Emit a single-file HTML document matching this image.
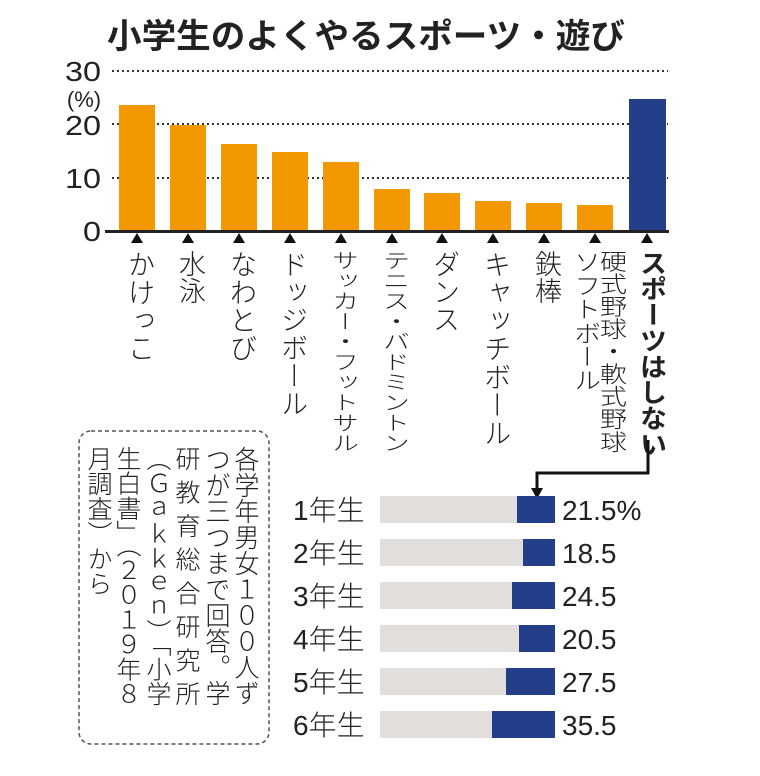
<!DOCTYPE html>
<html><head><meta charset="utf-8">
<style>
html,body{margin:0;padding:0;background:#fff;}
svg{display:block;}
text{font-family:"Liberation Sans","Noto Sans CJK JP",sans-serif;fill:#222;}
.v{writing-mode:tb;glyph-orientation-vertical:0;}
</style></head><body>
<svg width="760" height="776" viewBox="0 0 760 776" xmlns="http://www.w3.org/2000/svg">
<rect width="760" height="776" fill="#fff"/>
<text x="366" y="48" text-anchor="middle" font-size="34" font-weight="bold" style="font-family:'Noto Sans CJK JP',sans-serif" textLength="518" lengthAdjust="spacingAndGlyphs">小学生のよくやるスポーツ・遊び</text>
<g stroke="#333" stroke-width="2" stroke-dasharray="2,3">
<line x1="112" y1="71" x2="668" y2="71"/>
<line x1="112" y1="124" x2="668" y2="124"/>
<line x1="112" y1="178" x2="668" y2="178"/>
</g>
<g font-size="28" text-anchor="end" style="font-weight:300">
<text x="101" y="81" textLength="36" lengthAdjust="spacingAndGlyphs">30</text>
<text x="101" y="135" textLength="36" lengthAdjust="spacingAndGlyphs">20</text>
<text x="101" y="188" textLength="36" lengthAdjust="spacingAndGlyphs">10</text>
<text x="101" y="241" textLength="18" lengthAdjust="spacingAndGlyphs">0</text>
</g>
<text x="84" y="107" font-size="22" text-anchor="middle">(%)</text>
<g fill="#f39800">
<rect x="119" y="105" width="36" height="126"/>
<rect x="170" y="125" width="36" height="106"/>
<rect x="221" y="144" width="36" height="87"/>
<rect x="272" y="152" width="36" height="79"/>
<rect x="323" y="162" width="36" height="69"/>
<rect x="374" y="189" width="36" height="42"/>
<rect x="424" y="193" width="36" height="38"/>
<rect x="475" y="201" width="36" height="30"/>
<rect x="526" y="203" width="36" height="28"/>
<rect x="577" y="205" width="36" height="26"/>
</g>
<rect x="629" y="99" width="37" height="132" fill="#243f8a"/>
<line x1="105" y1="231.5" x2="669" y2="231.5" stroke="#222" stroke-width="3"/>
<g fill="#111">
<path d="M131,243 l6,-10 l6,10z"/><path d="M182,243 l6,-10 l6,10z"/><path d="M233,243 l6,-10 l6,10z"/><path d="M284,243 l6,-10 l6,10z"/><path d="M335,243 l6,-10 l6,10z"/><path d="M386,243 l6,-10 l6,10z"/><path d="M436,243 l6,-10 l6,10z"/><path d="M487,243 l6,-10 l6,10z"/><path d="M538,243 l6,-10 l6,10z"/><path d="M589,243 l6,-10 l6,10z"/><path d="M641,243 l6,-10 l6,10z"/>
</g>
<g font-size="27" style="font-weight:300;font-family:'Noto Sans CJK JP',sans-serif">
<text class="v" x="139" y="250" textLength="112" lengthAdjust="spacingAndGlyphs">かけっこ</text>
<text class="v" x="190" y="250">水泳</text>
<text class="v" x="241" y="250" textLength="112" lengthAdjust="spacingAndGlyphs">なわとび</text>
<text class="v" x="292" y="250" textLength="167" lengthAdjust="spacingAndGlyphs">ドッジボール</text>
<text class="v" x="343" y="250" textLength="203" lengthAdjust="spacingAndGlyphs">サッカー・フットサル</text>
<text class="v" x="394" y="250" textLength="203" lengthAdjust="spacingAndGlyphs">テニス・バドミントン</text>
<text class="v" x="444" y="250" textLength="83" lengthAdjust="spacingAndGlyphs">ダンス</text>
<text class="v" x="495" y="250" textLength="197" lengthAdjust="spacingAndGlyphs">キャッチボール</text>
<text class="v" x="546" y="250">鉄棒</text>
<text class="v" x="585" y="250" textLength="142" lengthAdjust="spacingAndGlyphs">ソフトボール</text>
<text class="v" x="611" y="250" textLength="203" lengthAdjust="spacingAndGlyphs">硬式野球・軟式野球</text>
<text class="v" x="651" y="250" style="font-weight:bold" textLength="207" lengthAdjust="spacingAndGlyphs">スポーツはしない</text>
</g>
<path d="M648,440 V473 H537 V492" fill="none" stroke="#111" stroke-width="3"/>
<path d="M531,488 L537,499 L543,488z" fill="#111"/>
<rect x="79" y="431" width="190" height="313" rx="12" fill="none" stroke="#555" stroke-width="1.5" stroke-dasharray="4,3"/>
<g font-size="25" style="font-family:'Noto Sans CJK JP',sans-serif;font-weight:300">
<text class="v" x="245" y="446" textLength="260" lengthAdjust="spacingAndGlyphs">各学年男女１００人ず</text>
<text class="v" x="216" y="446" textLength="260" lengthAdjust="spacingAndGlyphs">つが三つまで回答。学</text>
<text class="v" x="186" y="446" textLength="260" lengthAdjust="spacing">研教育総合研究所</text>
<text class="v" x="157" y="446" textLength="260" lengthAdjust="spacingAndGlyphs">（Ｇａｋｋｅｎ）「小学</text>
<text class="v" x="127" y="446" textLength="260" lengthAdjust="spacingAndGlyphs">生白書」（２０１９年８</text>
<text class="v" x="98" y="446" textLength="150" lengthAdjust="spacingAndGlyphs">月調査）から</text>
</g>
<g fill="#e2dedb">
<rect x="380" y="496" width="175" height="27"/>
<rect x="380" y="539" width="175" height="27"/>
<rect x="380" y="582" width="175" height="27"/>
<rect x="380" y="625" width="175" height="27"/>
<rect x="380" y="668" width="175" height="27"/>
<rect x="380" y="711" width="175" height="27"/>
</g>
<g fill="#243f8a">
<rect x="517" y="496" width="38" height="27"/>
<rect x="523" y="539" width="32" height="27"/>
<rect x="512" y="582" width="43" height="27"/>
<rect x="519" y="625" width="36" height="27"/>
<rect x="506" y="668" width="49" height="27"/>
<rect x="492" y="711" width="63" height="27"/>
</g>
<g font-size="28" style="font-weight:300">
<text x="293" y="520">1年生</text>
<text x="293" y="563">2年生</text>
<text x="293" y="606">3年生</text>
<text x="293" y="649">4年生</text>
<text x="293" y="692">5年生</text>
<text x="293" y="735">6年生</text>
<text x="562" y="520">21.5%</text>
<text x="562" y="563">18.5</text>
<text x="562" y="606">24.5</text>
<text x="562" y="649">20.5</text>
<text x="562" y="692">27.5</text>
<text x="562" y="735">35.5</text>
</g>
</svg>
</body></html>
